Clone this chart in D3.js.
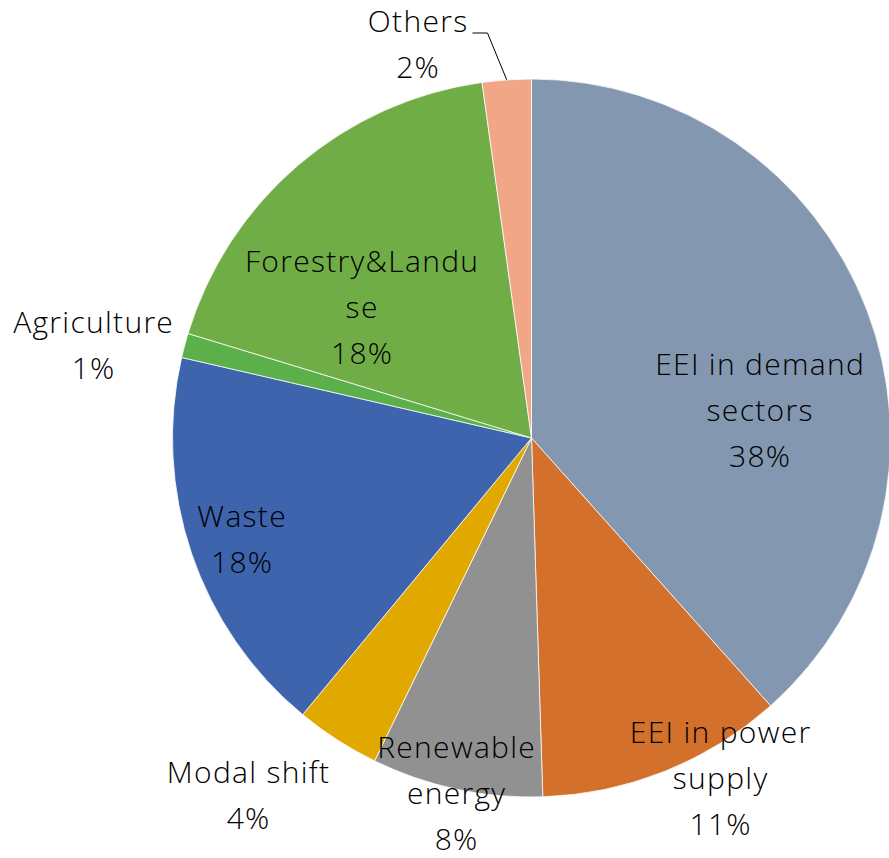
<!DOCTYPE html>
<html>
<head>
<meta charset="utf-8">
<script src="https://cdn.jsdelivr.net/npm/d3@7/dist/d3.min.js"></script>
<style>
  html, body { margin: 0; padding: 0; background: #fff; }
  svg { display: block; }
  text { font-family: "Open Sans", "Noto Sans", sans-serif; font-weight: 300; fill: #000; }
</style>
</head>
<body>
<svg id="chart" width="889" height="858"></svg>
<script>
// Mitigation potential by measure (share of total)
const categories = [
  "EEI in demand sectors",
  "EEI in power supply",
  "Renewable energy",
  "Modal shift",
  "Waste",
  "Agriculture",
  "Forestry&Landuse",
  "Others"
];
const values = [38.4, 11.1, 7.7, 3.8, 17.6, 1.1, 18.1, 2.2];
const colors = ["#8497B0", "#D3702B", "#919191", "#E1A900", "#3E64AD", "#5BB04A", "#70AD47", "#F1A688"];

// Category names as they wrap in the label boxes
const nameLines = [
  ["EEI in demand", "sectors"],
  ["EEI in power", "supply"],
  ["Renewable", "energy"],
  ["Modal shift"],
  ["Waste"],
  ["Agriculture"],
  ["Forestry&Landu", "se"],
  ["Others"]
];

// Layout: pie geometry and label anchors (x centre, first baseline)
const cx = 531.5, cy = 438, radius = 359;
const labelAnchor = [
  [759.5, 375], [720, 743], [456, 758], [248, 783],
  [241.5, 527], [93, 333], [361.5, 272], [417.5, 32]
];
const lineGap = 46;
const fontSize = 30;
const tracking = 1.3;

const svg = d3.select("#chart");
const total = d3.sum(values);
const pct = d3.format(".0%");

const pie = d3.pie().sort(null).value(d => d.value);
const arc = d3.arc().innerRadius(0).outerRadius(radius);

const data = categories.map((c, i) => ({ name: c, value: values[i], color: colors[i], lines: nameLines[i], anchor: labelAnchor[i] }));
const arcs = pie(data);

const g = svg.append("g").attr("transform", `translate(${cx},${cy})`);
g.selectAll("path.slice")
  .data(arcs)
  .join("path")
  .attr("class", "slice")
  .attr("d", arc)
  .attr("fill", d => d.data.color)
  .attr("stroke", "#ffffff")
  .attr("stroke-width", 0.75)
  .attr("stroke-linejoin", "round");

// Leader line for the small "Others" slice, attached to the middle of its outer edge
const others = arcs[arcs.length - 1];
const midA = (others.startAngle + others.endAngle) / 2;
const edge = [cx + radius * Math.sin(midA), cy - radius * Math.cos(midA)];
const lo = labelAnchor[7];
svg.append("polyline")
  .attr("points", [[lo[0] + 55, lo[1] + 1], [lo[0] + 70, lo[1] + 1], edge].map(p => p.join(",")).join(" "))
  .attr("fill", "none")
  .attr("stroke", "#000")
  .attr("stroke-width", 1);

// Data labels: category name lines followed by the rounded share
const labels = svg.selectAll("text.lbl")
  .data(arcs)
  .join("text")
  .attr("class", "lbl")
  .attr("text-anchor", "middle")
  .attr("font-size", fontSize)
  .attr("letter-spacing", tracking)
  .attr("x", d => d.data.anchor[0])
  .attr("y", d => d.data.anchor[1]);

labels.each(function(d) {
  const t = d3.select(this);
  const lines = d.data.lines.concat([pct(d.data.value / total)]);
  lines.forEach((ln, i) => {
    t.append("tspan")
      .attr("x", d.data.anchor[0] + tracking / 2)
      .attr("y", d.data.anchor[1] + i * lineGap)
      .text(ln);
  });
});
</script>
</body>
</html>
